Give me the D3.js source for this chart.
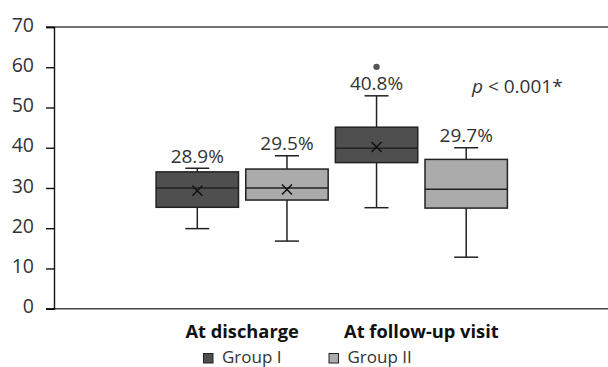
<!DOCTYPE html>
<html><head><meta charset="utf-8">
<script src="https://cdn.jsdelivr.net/npm/d3@7"></script>
<style>html,body{margin:0;padding:0;background:#fff}svg{display:block}</style>
</head><body><svg id="c" width="608" height="367"></svg>
<script>
const categories = ["At discharge", "At follow-up visit"];
const groups = ["Group I", "Group II"];
const colors = ["#4f4f4f", "#ababab"];
const boxCategory = ["At discharge", "At discharge", "At follow-up visit", "At follow-up visit"];
const boxGroup = ["Group I", "Group II", "Group I", "Group II"];
const boxMin = [19.9, 16.8, 25.1, 12.8];
const boxQ1 = [25.2, 27.0, 36.3, 25.0];
const boxMedian = [30.0, 30.0, 39.9, 29.7];
const boxQ3 = [34.0, 34.7, 45.1, 37.1];
const boxMax = [34.9, 38.0, 52.9, 40.0];
const boxMean = [29.3, 29.6, 40.2, null];
const boxOutliers = [[], [], [60.1], []];
const boxLabels = ["28.9%", "29.5%", "40.8%", "29.7%"];
const yTicks = [0, 10, 20, 30, 40, 50, 60, 70];
const pText = ["p", " < 0.001*"];

const svg = d3.select("#c");
const y = d3.scaleLinear().domain([0, 70]).range([308.7, 27]);
const x = d3.scaleBand().domain(categories).range([152.5, 511]).paddingInner(0).paddingOuter(0);
const xg = d3.scaleBand().domain(groups).range([0, x.bandwidth()]).paddingInner(0.081).paddingOuter(0.04);
const col = d3.scaleOrdinal().domain(groups).range(colors);

const font = "'Open Sans', sans-serif";
const axisX = 54;
svg.append("line").attr("x1", 46).attr("x2", 608).attr("y1", y(70)).attr("y2", y(70)).attr("stroke", "#444").attr("stroke-width", 1.6);
svg.append("line").attr("x1", 46).attr("x2", 608).attr("y1", y(0)).attr("y2", y(0)).attr("stroke", "#444").attr("stroke-width", 1.6);

const yAxis = d3.axisLeft(y).tickValues(yTicks).tickSize(8).tickPadding(12).tickFormat(d3.format("d"));
const ga = svg.append("g").attr("transform", `translate(${axisX},0)`).call(yAxis);
ga.select(".domain").attr("stroke", "#111").attr("stroke-width", 1.4);
ga.selectAll(".tick line").attr("stroke", "#111").attr("stroke-width", 1.4);
ga.selectAll(".tick text").attr("font-family", font).attr("font-size", 19.5).attr("fill", "#333").attr("dy", "0.36em").attr("y", -3);

const boxes = boxCategory.map((c, i) => ({
  c, g: boxGroup[i], min: boxMin[i], q1: boxQ1[i], med: boxMedian[i], q3: boxQ3[i],
  max: boxMax[i], mean: boxMean[i], out: boxOutliers[i], label: boxLabels[i]
}));

const stroke = "#222";
boxes.forEach(b => {
  const x0 = x(b.c) + xg(b.g);
  const w = xg.bandwidth();
  const cx = x0 + w / 2;
  const g = svg.append("g");
  g.append("line").attr("x1", cx).attr("x2", cx).attr("y1", y(b.max)).attr("y2", y(b.q3)).attr("stroke", stroke).attr("stroke-width", 1.5);
  g.append("line").attr("x1", cx).attr("x2", cx).attr("y1", y(b.q1)).attr("y2", y(b.min)).attr("stroke", stroke).attr("stroke-width", 1.5);
  g.append("line").attr("x1", cx - 12).attr("x2", cx + 12).attr("y1", y(b.max)).attr("y2", y(b.max)).attr("stroke", stroke).attr("stroke-width", 1.5);
  g.append("line").attr("x1", cx - 12).attr("x2", cx + 12).attr("y1", y(b.min)).attr("y2", y(b.min)).attr("stroke", stroke).attr("stroke-width", 1.5);
  g.append("rect").attr("x", x0).attr("y", y(b.q3)).attr("width", w).attr("height", y(b.q1) - y(b.q3))
    .attr("fill", col(b.g)).attr("stroke", stroke).attr("stroke-width", 1.5);
  g.append("line").attr("x1", x0).attr("x2", x0 + w).attr("y1", y(b.med)).attr("y2", y(b.med)).attr("stroke", stroke).attr("stroke-width", 1.5);
  if (b.mean != null) {
    const my = y(b.mean), s = 5;
    g.append("path").attr("d", `M${cx - s},${my - s}L${cx + s},${my + s}M${cx - s},${my + s}L${cx + s},${my - s}`)
      .attr("stroke", "#111").attr("stroke-width", 1.5).attr("fill", "none");
  }
  b.out.forEach(o => g.append("circle").attr("cx", cx).attr("cy", y(o)).attr("r", 3.2).attr("fill", "#555"));
  g.append("text").attr("x", cx).attr("y", y(b.max) - 5.5).attr("text-anchor", "middle")
    .attr("font-family", font).attr("font-size", 19).attr("fill", "#333").text(b.label);
});

const pt = svg.append("text").attr("x", 472).attr("y", 92.5).attr("font-family", font).attr("font-size", 19).attr("fill", "#333");
pt.append("tspan").attr("font-style", "italic").text(pText[0]);
pt.append("tspan").text(pText[1]);

categories.forEach(c => {
  svg.append("text").attr("x", x(c) + x.bandwidth() / 2).attr("y", 337.5).attr("text-anchor", "middle")
    .attr("font-family", font).attr("font-weight", "bold").attr("font-size", 18.3).attr("fill", "#111").text(c);
});

const legX = [203.5, 329];
groups.forEach((gname, i) => {
  svg.append("rect").attr("x", legX[i]).attr("y", 353.5).attr("width", 9.5).attr("height", 9.5)
    .attr("fill", col(gname)).attr("stroke", "#222").attr("stroke-width", 1);
  svg.append("text").attr("x", legX[i] + 18.5).attr("y", 362.5).attr("font-family", font).attr("font-size", 17)
    .attr("fill", "#333").text(gname);
});
</script></body></html>
